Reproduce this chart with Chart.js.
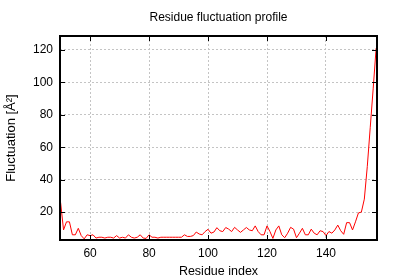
<!DOCTYPE html>
<html>
<head>
<meta charset="utf-8">
<script src="https://cdn.jsdelivr.net/npm/chart.js@4"></script>
<style>
  body { margin: 0; background: #fff; }
  #wrap { width: 400px; height: 280px; }
</style>
</head>
<body>
<div id="wrap"><canvas id="chart"></canvas></div>
<script>
// Data
const residues = [
  50, 51, 52, 53, 54, 55, 56, 57, 58, 59,
  60, 61, 62, 63, 64, 65, 66, 67, 68, 69,
  70, 71, 72, 73, 74, 75, 76, 77, 78, 79,
  80, 81, 82, 83, 84, 85, 86, 87, 88, 89,
  90, 91, 92, 93, 94, 95, 96, 97, 98, 99,
  100, 101, 102, 103, 104, 105, 106, 107, 108, 109,
  110, 111, 112, 113, 114, 115, 116, 117, 118, 119,
  120, 121, 122, 123, 124, 125, 126, 127, 128, 129,
  130, 131, 132, 133, 134, 135, 136, 137, 138, 139,
  140, 141, 142, 143, 144, 145, 146, 147, 148, 149,
  150, 151, 152, 153, 154, 155, 156, 157
];
const fluctuation = [
  26, 9, 14, 14, 6, 6, 10, 5.5, 3.5, 6,
  5.5, 6, 4, 4.5, 4.5, 4, 4.5, 4.5, 4, 5.5,
  4, 4.5, 4, 6, 4.5, 4, 4.5, 6, 4, 3.8,
  6, 4.5, 4.5, 4, 4.5, 4.5, 4.5, 4.5, 4.5, 4.5,
  4.5, 4.5, 6, 5, 5, 5.5, 7.7, 6.5, 6, 8,
  9.4, 7, 7.7, 10.4, 8.5, 8, 10.5, 9.5, 8, 10.6,
  9, 7.5, 9, 10.5, 9, 8.5, 11.5, 8, 6, 6,
  11.5, 8, 3.8, 9, 11.5, 6, 4.2, 7, 10.6, 9.5,
  4.2, 7, 10, 6, 6, 9.5, 7, 6, 8.5, 8,
  5.5, 8, 7, 9, 12, 8.5, 6.3, 13.5, 13.5, 9,
  14, 19.5, 20, 28, 48, 72, 96, 121
];
const xTicks = [60, 80, 100, 120, 140];
const yTicks = [20, 40, 60, 80, 100, 120];
const chartTitle = 'Residue fluctuation profile';

const FONT = "'Liberation Sans', Arial, sans-serif";

// gnuplot-like frame with inward ticks on all four sides, title centred on the plot
const framePlugin = {
  id: 'frame',
  afterDatasetsDraw(chart) {
    const { ctx, chartArea: a, scales: { x, y } } = chart;
    ctx.save();
    ctx.strokeStyle = '#000';
    ctx.lineWidth = 1;
    ctx.beginPath();
    xTicks.forEach(v => {
      const p = Math.round(x.getPixelForValue(v)) + 0.5;
      ctx.moveTo(p, a.bottom); ctx.lineTo(p, a.bottom - 5);
      ctx.moveTo(p, a.top); ctx.lineTo(p, a.top + 5);
    });
    yTicks.forEach(v => {
      const p = Math.round(y.getPixelForValue(v)) + 0.5;
      ctx.moveTo(a.left, p); ctx.lineTo(a.left + 5, p);
      ctx.moveTo(a.right, p); ctx.lineTo(a.right - 5, p);
    });
    ctx.stroke();
    ctx.lineWidth = 2;
    ctx.strokeRect(a.left, a.top, a.right - a.left, a.bottom - a.top);

    ctx.fillStyle = '#000';
    ctx.font = '12px ' + FONT;
    ctx.textAlign = 'center';
    ctx.textBaseline = 'middle';
    ctx.fillText(chartTitle, (a.left + a.right) / 2, 17.5);
    ctx.restore();
  }
};

const points = residues.map((r, i) => ({ x: r, y: fluctuation[i] }));

new Chart(document.getElementById('chart'), {
  type: 'line',
  data: {
    datasets: [{
      data: points,
      borderColor: '#ff0000',
      borderWidth: 1,
      pointRadius: 0,
      tension: 0,
      fill: false
    }]
  },
  options: {
    responsive: true,
    maintainAspectRatio: false,
    animation: false,
    layout: { padding: { left: 0, right: 23, top: 36, bottom: 0 } },
    plugins: {
      legend: { display: false },
      tooltip: { enabled: false },
      title: { display: false }
    },
    scales: {
      x: {
        type: 'linear',
        min: 49.8,
        max: 157.3,
        afterBuildTicks: s => { s.ticks = xTicks.map(v => ({ value: v })); },
        afterFit: s => { s.height = 40; },
        grid: { color: '#c4c4c4', lineWidth: 1, drawTicks: false },
        border: { display: false, dash: [2, 2] },
        ticks: { color: '#000', font: { family: FONT, size: 12 }, padding: 6, maxRotation: 0 },
        title: {
          display: true,
          text: 'Residue index',
          color: '#000',
          font: { family: FONT, size: 12.5, lineHeight: 1.2 },
          padding: { top: 0, bottom: 1 }
        }
      },
      y: {
        min: 2.8,
        max: 128.6,
        afterBuildTicks: s => { s.ticks = yTicks.map(v => ({ value: v })); },
        afterFit: s => { s.width = 60; },
        grid: { color: '#c4c4c4', lineWidth: 1, drawTicks: false },
        border: { display: false, dash: [2, 2] },
        ticks: { color: '#000', font: { family: FONT, size: 12 }, padding: 7 },
        title: {
          display: true,
          text: 'Fluctuation [Å²]',
          color: '#000',
          font: { family: FONT, size: 13, lineHeight: 1.2 },
          padding: { top: 4, bottom: 0 }
        }
      }
    }
  },
  plugins: [framePlugin]
});
</script>
</body>
</html>
